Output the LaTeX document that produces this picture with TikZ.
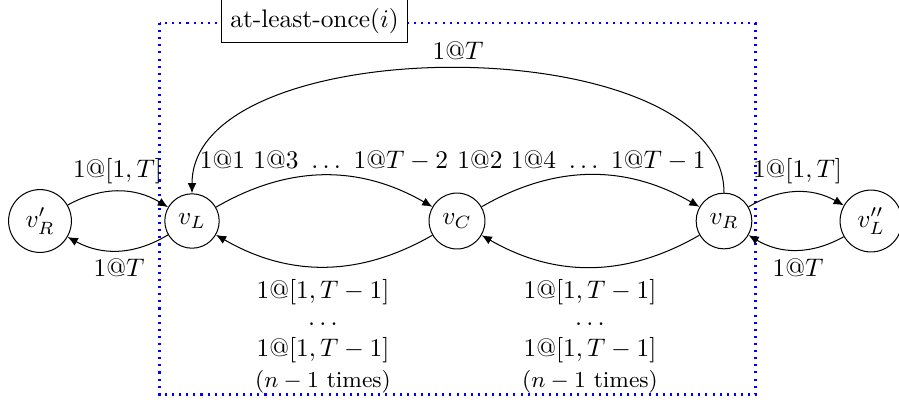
\documentclass[tikz,border=0pt]{standalone}
\usetikzlibrary{arrows.meta}
\begin{document}
\begin{tikzpicture}[x=0.3937pt,y=-0.3937pt,
  state/.style={draw,circle},
  lbl/.style={inner sep=0pt},
  arr/.style={-{Latex[length=4pt,width=3.4pt]}},
  frame/.style={blue,thick,dotted},
  titlebox/.style={draw,fill=white}]
\useasboundingbox (0,0) rectangle (899,405);
% frame
\draw[frame] (159.5,23) rectangle (755.5,394.5);
\node[titlebox] (title) at (314.5,21) {at-least-once$(i)$};
% states
\node[state] (vpR) at (40,221) {$v'_R$};
\node[state] (vL) at (192,221) {$v_L$};
\node[state] (vC) at (457,221) {$v_C$};
\node[state] (vR) at (724,221) {$v_R$};
\node[state] (vppL) at (871,221) {$v''_L$};
% edges
\draw[arr] (vpR) to[bend left=30] (vL);
\draw[arr] (vL) to[bend left=30] (vpR);
\draw[arr] (vL) to[bend left=30] (vC);
\draw[arr] (vC) to[bend left=30] (vR);
\draw[arr] (vC) to[bend left=30] (vL);
\draw[arr] (vR) to[bend left=30] (vC);
\draw[arr] (vR) to[bend left=30] (vppL);
\draw[arr] (vppL) to[bend left=30] (vR);
\draw[arr] (vR.north) to[out=90,in=90,looseness=0.8] (vL.north);
% labels
\node[lbl] (l1) at (117.5,171) {$1@[1,T]$};
\node[lbl] (l2) at (119,268) {$1@T$};
\node[lbl] (l3) at (797.5,171) {$1@[1,T]$};
\node[lbl] (l4) at (798,268) {$1@T$};
\node[lbl] (l5) at (458,51) {$1@T$};
\node[lbl] (l6) at (324,161) {$1@1\ 1@3\ \ldots\ 1@T-2$};
\node[lbl] (l7) at (581.5,161) {$1@2\ 1@4\ \ldots\ 1@T-1$};
\node[lbl] (b1) at (323,292) {$1@[1,T-1]$};
\node[lbl,anchor=base] (b2) at (323,325) {$\dots$};
\node[lbl] (b3) at (323,350) {$1@[1,T-1]$};
\node[lbl] (b4) at (323,382) {\small $(n-1$ times$)$};
\node[lbl] (c1) at (590,292) {$1@[1,T-1]$};
\node[lbl,anchor=base] (c2) at (590,325) {$\dots$};
\node[lbl] (c3) at (590,350) {$1@[1,T-1]$};
\node[lbl] (c4) at (590,382) {\small $(n-1$ times$)$};
\end{tikzpicture}
\end{document}
